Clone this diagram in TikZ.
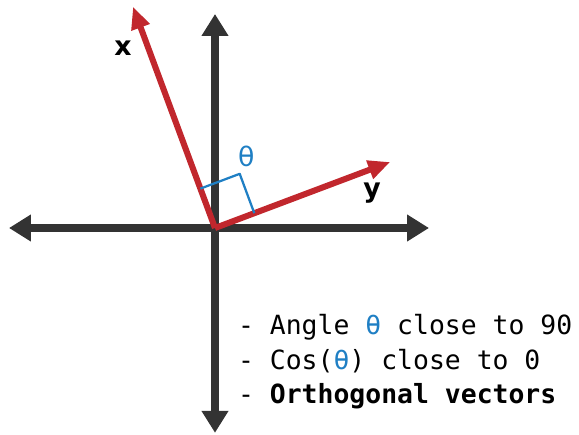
\documentclass[tikz,border=0pt]{standalone}
\usepackage{fontspec}
\setmainfont{DejaVu Sans}
\setmonofont{DejaVu Sans Mono}
\usepackage{tikz}
\usetikzlibrary{arrows.meta,angles}
\definecolor{axisgray}{HTML}{333333}
\definecolor{vecred}{HTML}{C1272D}
\definecolor{thetablue}{HTML}{1F7FC4}
\tikzset{
  every picture/.style={line join=round, >=Stealth},
  axis/.style={line width=5.6pt, axisgray, {Triangle[length=0.55cm,width=0.64cm]}-{Triangle[length=0.55cm,width=0.64cm]}},
  vector/.style={line width=4.3pt, vecred, -{Triangle[length=0.55cm,width=0.46cm]}},
  veclabel/.style={font=\fontsize{19}{22}\selectfont\bfseries},
  note/.style={anchor=west, inner sep=0pt, font=\fontsize{18.8}{22}\selectfont\ttfamily},
}

\begin{document}
\begin{tikzpicture}
\useasboundingbox (-5.375,-5.15) rectangle (9.1,5.7);
\coordinate (O) at (0,0);
\coordinate (west) at (-5.15,0);
\coordinate (east) at (5.35,0);
\coordinate (north) at (0,5.35);
\coordinate (south) at (0,-5.12);
\coordinate (xend) at (-2.05,5.53);
\coordinate (yend) at (4.38,1.65);
% axes
\draw[axis] (west) -- (east);
\draw[axis] (north) -- (south);
% the two vectors
\draw[vector] (O) -- (xend);
\draw[vector] (O) -- (yend);
\pic[draw=thetablue, line width=1.6pt, angle radius=1.05cm] {right angle=yend--O--xend};
\node[veclabel] (xlab) at (-2.3,4.5) {x};
\node[veclabel] (ylab) at (3.93,0.88) {y};
\node[thetablue, font=\fontsize{19}{22}\selectfont] (theta) at (0.78,1.8) {θ};
% notes
\node[note] (n1) at (0.57,-2.47) {- Angle \textcolor{thetablue}{θ} close to 90};
\node[note] (n2) at (0.57,-3.33) {- Cos(\textcolor{thetablue}{θ}) close to 0};
\node[note] (n3) at (0.57,-4.2) {- \textbf{Orthogonal vectors}};
\end{tikzpicture}
\end{document}
